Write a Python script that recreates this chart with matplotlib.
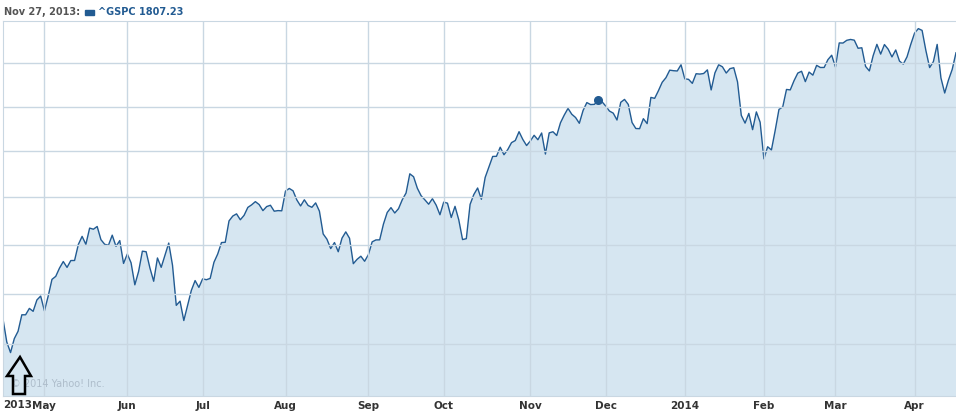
import numpy as np
import pandas as pd
import matplotlib
matplotlib.use('Agg')
from matplotlib import pyplot as plt
from matplotlib.patches import Polygon, Rectangle

# S&P 500 daily closes, Apr 16 2013 - Apr 16 2014 (one value per trading day)
apr_2013 = [1574.57, 1552.01, 1541.61, 1555.25, 1562.50, 1578.78, 1578.79, 1585.16,
            1582.24, 1593.61, 1597.57]
may_2013 = [1582.70, 1597.59, 1614.42, 1617.50, 1625.96, 1632.69, 1626.67, 1633.70,
            1633.77, 1650.34, 1658.78, 1650.47, 1667.47, 1666.29, 1669.16, 1655.35,
            1650.51, 1649.60, 1660.06, 1648.36, 1654.41, 1630.74]
jun_2013 = [1640.42, 1631.38, 1608.90, 1622.56, 1643.38, 1642.81, 1626.13, 1612.52,
            1636.36, 1626.73, 1639.04, 1651.81, 1628.93, 1588.19, 1592.43, 1573.09,
            1588.03, 1603.26, 1613.20, 1606.28]
jul_2013 = [1614.96, 1614.08, 1615.41, 1631.89, 1640.46, 1652.32, 1652.62, 1675.02,
            1680.19, 1682.50, 1676.26, 1680.91, 1689.37, 1692.09, 1695.53, 1692.39,
            1685.94, 1690.25, 1691.65, 1685.33, 1685.96, 1685.73]
aug_2013 = [1706.87, 1709.67, 1707.14, 1697.37, 1690.91, 1697.48, 1691.42, 1689.47,
            1694.16, 1685.39, 1661.32, 1655.83, 1646.06, 1652.35, 1642.80, 1656.96,
            1663.50, 1656.78, 1630.48, 1634.96, 1638.17, 1632.97]
sep_2013 = [1639.77, 1653.08, 1655.08, 1655.17, 1671.71, 1683.99, 1689.13, 1683.42,
            1687.99, 1697.60, 1704.76, 1725.52, 1722.34, 1709.91, 1701.84, 1697.42,
            1692.77, 1698.67, 1691.75, 1681.55]
oct_2013 = [1695.00, 1693.87, 1678.66, 1690.50, 1676.12, 1655.45, 1656.40, 1692.56,
            1703.20, 1710.14, 1698.06, 1721.54, 1733.15, 1744.50, 1744.66, 1754.67,
            1746.38, 1752.07, 1759.77, 1762.11, 1771.95, 1763.31, 1756.54]
nov_2013 = [1761.64, 1767.93, 1762.97, 1770.49, 1747.15, 1770.61, 1771.89, 1767.69,
            1782.00, 1790.62, 1798.18, 1791.53, 1787.87, 1781.37, 1795.85, 1804.76,
            1802.48, 1802.75, 1807.23, 1805.81]
dec_2013 = [1800.90, 1795.15, 1792.81, 1785.03, 1805.09, 1808.37, 1802.62, 1782.22,
            1775.50, 1775.32, 1786.54, 1781.00, 1810.65, 1809.60, 1818.32, 1827.99,
            1833.32, 1842.02, 1841.40, 1841.07, 1848.36]
jan_2014 = [1831.98, 1831.37, 1826.77, 1837.88, 1837.49, 1838.13, 1842.37, 1819.20,
            1838.88, 1848.38, 1845.89, 1838.70, 1843.80, 1844.86, 1828.46, 1790.29,
            1781.56, 1792.50, 1774.20, 1794.19, 1782.59]
feb_2014 = [1741.89, 1755.20, 1751.64, 1773.43, 1797.02, 1799.84, 1819.75, 1819.26,
            1829.83, 1838.63, 1840.76, 1828.75, 1839.78, 1836.25, 1847.61, 1845.12,
            1845.16, 1854.29, 1859.45]
mar_2014 = [1845.73, 1873.91, 1873.81, 1877.03, 1878.04, 1877.17, 1867.63, 1868.20,
            1846.34, 1841.13, 1858.83, 1872.25, 1860.77, 1872.01, 1866.52, 1857.44,
            1865.62, 1852.56, 1849.04, 1857.62, 1872.34]
apr_2014 = [1885.52, 1890.90, 1888.77, 1865.09, 1845.04, 1851.96, 1872.18, 1833.08,
            1815.69, 1830.61, 1842.98, 1862.31]

closes = (apr_2013 + may_2013 + jun_2013 + jul_2013 + aug_2013 + sep_2013 + oct_2013
          + nov_2013 + dec_2013 + jan_2014 + feb_2014 + mar_2014 + apr_2014)

market_holidays = ['2013-05-27', '2013-07-04', '2013-09-02', '2013-11-28',
                   '2013-12-25', '2014-01-01', '2014-01-20', '2014-02-17']
dates = pd.bdate_range('2013-04-16', '2014-04-16', freq='C', holidays=market_holidays)

highlight_date = '2013-11-27'
grid_levels = [1550, 1600, 1650, 1700, 1750, 1800, 1850]

df = pd.DataFrame({'date': dates, 'close': closes})
df['idx'] = np.arange(len(df))

# first trading day of each month -> vertical grid + labels
month_start = df.groupby([df.date.dt.year, df.date.dt.month]).idx.min().values
month_labels = []
for i in month_start:
    d = df.date[i]
    month_labels.append(str(d.year) if d.month == 1 else d.strftime('%b'))
month_labels[0] = '2013'

line_col = '#225b92'
fill_col = '#d6e6f1'
grid_col = '#c9d7e2'

fig = plt.figure(figsize=(9.56, 4.12), dpi=100)
ax = fig.add_axes([3 / 956, 1 - 396 / 412, 953 / 956, 375 / 412])

ax.fill_between(df.idx, df.close, 1400, color=fill_col, lw=0)
ax.plot(df.idx, df.close, color=line_col, lw=1.0)
hl = df[df.date == highlight_date]
ax.plot(hl.idx, hl.close, 'o', color=line_col, ms=5.5)

ax.set_yscale('log')
ax.set_ylim(1500, 1900)
ax.set_xlim(0, len(df) - 1)
ax.yaxis.set_minor_locator(plt.NullLocator())
ax.yaxis.set_minor_formatter(plt.NullFormatter())
ax.set_yticks(grid_levels)
ax.tick_params(left=False, labelleft=False)

ax.set_xticks(month_start[1:])
ax.set_xticklabels(month_labels[1:], fontsize=7.5, fontweight='bold', color='#333333')
ax.tick_params(axis='x', length=0, pad=3.5)
ax.text(0, -0.011, month_labels[0], transform=ax.get_xaxis_transform(),
        ha='left', va='top', fontsize=7.5, fontweight='bold', color='#333333')

ax.grid(True, color=grid_col, lw=1)
ax.set_axisbelow(False)
for s in ['left', 'top', 'bottom']:
    ax.spines[s].set_color(grid_col)
ax.spines['right'].set_visible(False)

ax.text(0.008, 0.025, '\u00a9 2014 Yahoo! Inc.', transform=ax.transAxes,
        fontsize=7, color='#aebdcb')

# header
fig.text(4 / 956, 1 - 12 / 412, 'Nov 27, 2013:', fontsize=7, fontweight='bold',
         color='#555555', va='center')
fig.patches.append(Rectangle((85 / 956, 1 - 14.5 / 412), 9 / 956, 5 / 412,
                             transform=fig.transFigure, color=line_col))
fig.text(98 / 956, 1 - 12 / 412, '^GSPC 1807.23', fontsize=7, fontweight='bold',
         color=line_col, va='center')

# hand-drawn arrow pointing at the start
arrow_px = [(20, 357), (31, 376), (25, 376), (25, 394), (13, 394), (13, 376), (7, 376)]
arrow = Polygon([(x / 956, 1 - y / 412) for x, y in arrow_px], closed=True,
                transform=fig.transFigure, fill=False, edgecolor='black', lw=1.8)
fig.patches.append(arrow)

fig.savefig('out.png', dpi=100)
